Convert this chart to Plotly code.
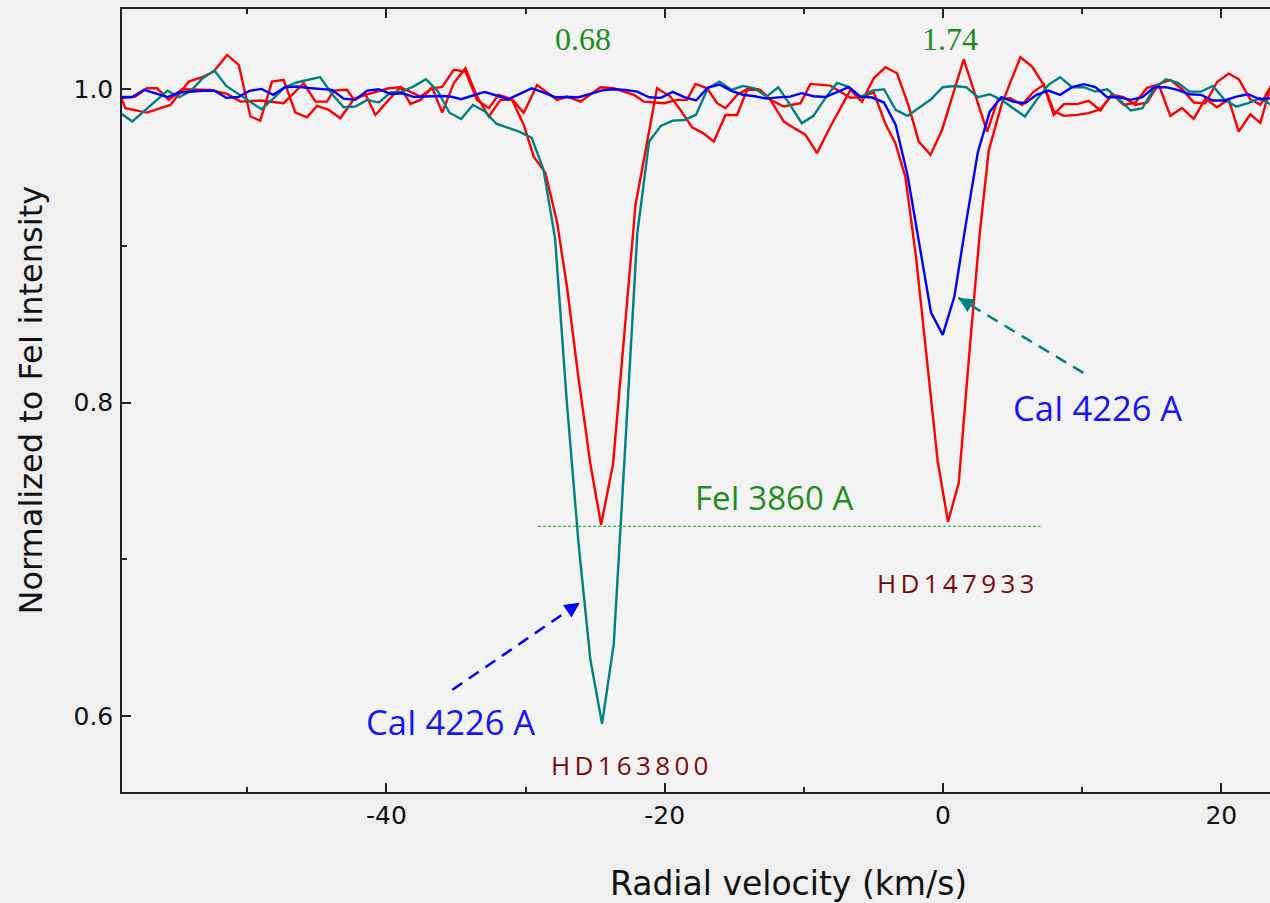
import plotly.graph_objects as go

# ---------------- data ----------------
# HD163800, FeI 3860 A (red, deep line at -24.6 km/s)
fe_163800_v = [-59.6, -59.0, -58.76, -57.2, -55.52, -54.20, -53.13, -52.41, -51.45, -50.61,
               -49.77, -49.06, -48.22, -47.38, -46.54, -45.70, -44.98, -44.14, -43.31, -42.35,
               -41.51, -40.79, -39.83, -38.99, -38.27, -37.55, -36.71, -35.99, -35.16, -34.32,
               -33.48, -32.64, -31.80, -30.96, -30.13, -29.41, -28.57, -27.73, -27.01, -26.18,
               -25.34, -24.57, -23.71, -22.90, -22.10, -20.55, -19.59, -18.87, -18.03, -17.25,
               -16.47, -15.63, -14.80, -14.08, -13.12, -12.40, -11.44, -10.66, -9.88, -9.05,
               -8.09, -6.65, -5.82, -4.98, -4.14, -3.30, -2.46, -1.74, -0.90, -0.07,
               0.70, 1.49, 3.17, 3.95, 4.84, 5.68, 6.52, 7.24, 7.96, 8.68,
               9.63, 10.47, 11.31, 12.15, 12.99, 13.83, 14.66, 15.50, 16.34, 17.18,
               18.02, 18.86, 19.70, 20.53, 21.25, 22.09, 22.81, 23.53, 24.2]
fe_163800_i = [0.993, 0.9932, 0.9879, 0.9851, 0.990, 1.0049, 1.0081, 1.0113, 1.0219, 1.0155,
               0.9826, 0.980, 1.0049, 1.006, 0.9851, 0.9821, 0.9894, 0.9868, 0.9815, 0.9936,
               0.997, 0.9836, 0.9932, 1.0013, 0.9906, 0.9932, 1.0013, 0.9851, 1.0038, 1.0134,
               0.9953, 0.9826, 0.9932, 0.9932, 0.9772, 0.957, 0.9466, 0.915, 0.873, 0.8147,
               0.761, 0.722, 0.761, 0.844, 0.926, 1.0006, 0.9953, 0.9868, 0.9757, 0.972,
               0.9666, 0.9836, 0.9836, 0.9996, 0.9996, 0.9932, 0.9794, 0.975, 0.9709, 0.9592,
               0.9762, 0.9996, 0.9921, 1.007, 1.014, 1.0102, 0.989, 0.9666, 0.9581, 0.974,
               0.996, 1.0191, 0.973, 0.9936, 0.9943, 0.990, 0.9985, 1.0028, 0.9836, 0.9905,
               0.9905, 0.9926, 0.9864, 0.9970, 0.9900, 0.9915, 1.0009, 1.0030, 0.9830, 0.9880,
               0.9811, 0.9941, 0.9885, 0.9936, 0.9730, 0.9840, 0.9785, 1.0015, 1.0]

# HD147933, FeI 3860 A (red, deep line at +0.4 km/s)
fe_147933_v = [-59.6, -59.0, -58.04, -57.20, -56.48, -55.64, -54.69, -53.37, -52.65, -51.45,
               -50.49, -49.06, -48.22, -47.38, -45.94, -45.10, -44.27, -43.79, -42.83, -42.35,
               -41.51, -40.67, -39.83, -38.99, -38.27, -37.55, -36.71, -35.99, -35.16, -34.32,
               -33.48, -32.64, -31.94, -30.96, -30.13, -29.17, -27.73, -27.01, -26.05, -24.62,
               -23.66, -22.22, -21.50, -20.07, -19.11, -18.39, -17.79, -16.95, -16.23, -15.63,
               -14.80, -14.08, -13.27, -12.40, -11.44, -10.24, -9.52, -8.09, -6.65, -5.82,
               -4.98, -4.14, -3.42, -2.70, -1.94, -1.15, -0.38, 0.36, 1.13, 1.88,
               2.64, 3.29, 4.20, 5.56, 6.40, 7.24, 7.96, 8.68, 9.63, 10.47,
               11.31, 12.15, 12.99, 13.83, 14.66, 15.50, 16.34, 17.18, 18.02, 18.86,
               19.70, 20.53, 21.25, 22.09, 22.81, 23.53, 24.2]
fe_147933_i = [0.9943, 0.9943, 0.9953, 1.0006, 1.0006, 0.9932, 1.0, 0.9996, 0.9996, 0.997,
               0.9921, 0.9928, 0.9921, 0.9911, 1.0038, 0.9921, 0.9921, 0.9991, 0.9996, 0.9936,
               0.9964, 0.9985, 1.0006, 1.0013, 0.9985, 0.9953, 1.0006, 1.0015, 1.0124, 1.0113,
               0.9932, 0.9879, 0.9964, 0.9936, 0.985, 1.0027, 0.9932, 0.9953, 0.9921, 1.0013,
               1.0006, 0.9964, 0.9921, 0.9911, 0.9932, 0.9932, 1.0034, 1.0006, 0.9911, 0.9879,
               0.9964, 1.0, 1.0, 0.9932, 0.989, 0.9911, 1.0034, 1.0023, 0.9945, 0.995,
               0.998, 0.978, 0.9655, 0.944, 0.893, 0.829, 0.7625, 0.724, 0.7486, 0.83,
               0.908, 0.961, 0.990, 1.0204, 1.0145, 1.0028, 0.9860, 0.9830, 0.9836, 0.9847,
               0.9872, 0.9964, 0.9950, 0.9900, 0.9915, 1.0032, 1.0060, 1.0000, 0.9915, 0.9910,
               1.0046, 1.0100, 1.0064, 0.9936, 0.9900, 1.0015, 1.0]

# CaI 4226 A velocity grid (km/s), shared by both CaI spectra
cai_v = [-59.95, -59.11, -58.26, -57.42, -56.57, -55.73, -54.89, -54.04, -53.20, -52.35,
         -51.51, -50.67, -49.82, -48.98, -48.13, -47.29, -46.45, -45.60, -44.76, -43.91,
         -43.07, -42.23, -41.38, -40.54, -39.69, -38.85, -38.00, -37.16, -36.32, -35.47,
         -34.63, -33.78, -32.94, -32.10, -31.25, -30.41, -29.56, -28.72, -27.88, -27.03,
         -26.19, -25.34, -24.50, -23.66, -22.81, -21.97, -21.12, -20.28, -19.43, -18.59,
         -17.75, -16.90, -16.06, -15.21, -14.37, -13.53, -12.68, -11.84, -10.99, -10.15,
         -9.31, -8.46, -7.62, -6.77, -5.93, -5.08, -4.24, -3.40, -2.55, -1.71,
         -0.86, -0.02, 0.82, 1.67, 2.51, 3.36, 4.20, 5.04, 5.89, 6.73,
         7.58, 8.42, 9.27, 10.11, 10.95, 11.80, 12.64, 13.49, 14.33, 15.17,
         16.02, 16.86, 17.71, 18.55, 19.39, 20.24, 21.08, 21.93, 22.77, 23.61, 24.46]

# HD163800, CaI 4226 A (teal)
ca_163800_i = [0.988, 0.9847, 0.9794, 0.9860, 0.9930, 0.9991, 0.9949, 0.9990, 1.0070, 1.0119,
               1.0021, 0.9970, 0.9920, 0.9872, 0.9940, 1.0013, 1.0043, 1.0060, 1.0077, 0.9970,
               0.9885, 0.9890, 0.9932, 0.9915, 0.9979, 0.9985, 1.0020, 1.0064, 0.9990, 0.9850,
               0.9810, 0.9900, 0.9860, 0.9780, 0.9752, 0.9728, 0.9690, 0.9490, 0.905, 0.800,
               0.710, 0.636, 0.595, 0.646, 0.776, 0.908, 0.9666, 0.9766, 0.9800, 0.9804,
               0.9836, 1.0006, 1.0049, 0.9996, 1.0021, 1.0006, 0.9953, 1.0013, 0.9900, 0.9783,
               0.9830, 0.9943, 1.0040, 1.0015, 0.9949, 0.9991, 1.0000, 0.9868, 0.9830, 0.9885,
               0.9936, 1.0013, 1.0021, 1.0013, 0.9949, 0.9968, 0.9932, 0.9879, 0.9826, 0.9932,
               1.0028, 1.0077, 1.0013, 1.0013, 0.9985, 1.0000, 0.9936, 0.9864, 0.9879, 1.0006,
               1.0064, 1.0043, 0.9985, 0.9985, 1.0021, 0.9932, 0.9889, 0.9911, 0.9943, 0.9900, 0.9900]

# HD147933, CaI 4226 A (blue)
ca_147933_i = [0.995, 0.9952, 0.995, 0.9996, 0.9975, 0.9950, 0.9979, 0.9985, 0.999, 0.9991,
               0.9945, 0.9950, 0.9990, 1.0002, 0.9964, 1.0013, 1.0017, 1.0008, 1.0000, 0.9996,
               0.9940, 0.9932, 0.9991, 1.0000, 0.9970, 0.9974, 0.9950, 0.9955, 0.9957, 0.9955,
               0.9936, 0.9960, 0.9983, 0.9960, 0.9936, 0.9970, 1.0006, 0.9980, 0.9949, 0.9950,
               0.9949, 0.9970, 0.9993, 1.0000, 0.9995, 0.9985, 0.9949, 0.9945, 0.9983, 0.9950,
               0.9928, 1.0010, 1.0030, 0.9990, 0.9965, 0.9955, 0.9940, 0.9948, 0.9953, 0.9975,
               0.9955, 0.9950, 0.9980, 1.0013, 0.9953, 0.9947, 0.9915, 0.9772, 0.9453, 0.902,
               0.8574, 0.8432, 0.8677, 0.9155, 0.960, 0.9857, 0.9949, 0.9921, 0.9911, 0.9964,
               0.9991, 0.9964, 1.0013, 1.0032, 1.0013, 0.9949, 0.9949, 0.9932, 0.9949, 1.0013,
               1.0013, 0.9996, 0.9968, 0.9964, 0.9928, 0.9928, 0.9953, 0.9968, 0.9936, 0.9943, 0.994]

# axes
x_range = [-59.0, 23.5]
y_range = [0.5515, 1.0512]
x_tick_vals = [-40, -20, 0, 20]
x_tick_text = ["-40", "-20", "0", "20"]
x_minor_vals = [-50, -30, -10, 10]
y_tick_vals = [0.6, 0.8, 1.0]
y_tick_text = ["0.6", "0.8", "1.0"]
y_minor_vals = [0.7, 0.9]

# FeI reference level (dotted green line)
fe_level_v = [-29.1, 7.0]
fe_level_i = [0.721, 0.721]

# arrows: (tail v, tail I, head v, head I)
arrow_blue = (-35.26, 0.6167, -26.11, 0.6723)
arrow_teal = (10.09, 0.8190, 1.11, 0.8668)

# text labels: (text, v, I)
ew_labels = [("0.68", -25.86, 1.0321), ("1.74", 0.53, 1.0323)]
cai_labels = [("CaI 4226 A", -35.42, 0.5962), ("CaI 4226 A", 11.07, 0.7966)]
fei_label = ("FeI 3860 A", -12.12, 0.7392)
TS = "\u2009"
star_labels = [(TS.join("HD163800"), -22.50, 0.5688), (TS.join("HD147933"), 0.89, 0.6849)]

RED = "#ff0000"
TEAL = "#008080"
BLUE = "#0000ff"
GREEN = "#1e8c1e"
DARKRED = "#7a0a0a"
LW = 2.4

fig = go.Figure()
fig.add_trace(go.Scatter(x=fe_163800_v, y=fe_163800_i, mode="lines",
                         line=dict(color=RED, width=LW), name="HD163800 FeI"))
fig.add_trace(go.Scatter(x=fe_147933_v, y=fe_147933_i, mode="lines",
                         line=dict(color=RED, width=LW), name="HD147933 FeI"))
fig.add_trace(go.Scatter(x=cai_v, y=ca_163800_i, mode="lines",
                         line=dict(color=TEAL, width=LW), name="HD163800 CaI"))
fig.add_trace(go.Scatter(x=cai_v, y=ca_147933_i, mode="lines",
                         line=dict(color=BLUE, width=LW), name="HD147933 CaI"))
fig.add_trace(go.Scatter(x=fe_level_v, y=fe_level_i, mode="lines",
                         line=dict(color="#3cb043", width=1.2, dash="3px,2px"),
                         name="FeI level", hoverinfo="skip"))

# dashed arrow shafts + heads
for (tv, ti, hv, hi), col, (ax, ay) in [(arrow_blue, BLUE, (-11.5, 7.9)),
                                         (arrow_teal, TEAL, (12.0, 7.2))]:
    fig.add_shape(type="line", xref="x", yref="y", x0=tv, y0=ti, x1=hv, y1=hi,
                  line=dict(color=col, width=2.5, dash="12px,8px"))
    fig.add_annotation(x=hv, y=hi, xref="x", yref="y", ax=ax, ay=ay,
                       axref="pixel", ayref="pixel", text="", showarrow=True,
                       arrowhead=2, arrowsize=1.25, arrowwidth=2.4, arrowcolor=col)

for txt, v, i in ew_labels:
    fig.add_annotation(x=v, y=i, xref="x", yref="y", text=txt, showarrow=False,
                       font=dict(family="Liberation Serif", size=32, color=GREEN))
for txt, v, i in cai_labels:
    fig.add_annotation(x=v, y=i, xref="x", yref="y", text=txt, showarrow=False,
                       font=dict(family="Open Sans", size=34.5, color="#1414ff"))
fig.add_annotation(x=fei_label[1], y=fei_label[2], xref="x", yref="y", text=fei_label[0],
                   showarrow=False, font=dict(family="Open Sans", size=33, color=GREEN))
for txt, v, i in star_labels:
    fig.add_annotation(x=v, y=i, xref="x", yref="y", text=txt, showarrow=False,
                       font=dict(family="Open Sans", size=26, color=DARKRED))

# axis titles
fig.add_annotation(x=(789 - 122) / 1148, y=-(883 - 792) / 783, xref="paper", yref="paper",
                   text="Radial velocity (km/s)", showarrow=False, xanchor="center",
                   yanchor="middle",
                   font=dict(family="DejaVu Sans", size=33, color="#111111"))
fig.add_annotation(x=-(122 - 30) / 1148, y=0.5, xref="paper", yref="paper",
                   text="Normalized to FeI intensity", showarrow=False, textangle=-90,
                   xanchor="center", yanchor="middle",
                   font=dict(family="DejaVu Sans", size=32, color="#111111"))

axis_common = dict(showline=True, linecolor="#222222", linewidth=1.5, ticks="inside",
                   ticklen=9, tickwidth=1.5, tickcolor="#222222", showgrid=False,
                   zeroline=False, tickfont=dict(family="DejaVu Sans", size=25, color="#111111"))
fig.update_xaxes(range=x_range, tickmode="array", tickvals=x_tick_vals, ticktext=x_tick_text,
                 mirror="ticks",
                 minor=dict(tickmode="array", tickvals=x_minor_vals, ticks="inside",
                            ticklen=5, tickwidth=1.5, tickcolor="#222222"),
                 **axis_common)
fig.update_yaxes(range=y_range, tickmode="array", tickvals=y_tick_vals, ticktext=y_tick_text,
                 mirror=False, ticklabelstandoff=2,
                 minor=dict(tickmode="array", tickvals=y_minor_vals, ticks="inside",
                            ticklen=5, tickwidth=1.5, tickcolor="#222222"),
                 **axis_common)

fig.update_layout(width=1270, height=903, margin=dict(l=122, r=0, t=9, b=111),
                  paper_bgcolor="#efefef", plot_bgcolor="#f3f3f3", showlegend=False)

fig.write_html("out.html")
